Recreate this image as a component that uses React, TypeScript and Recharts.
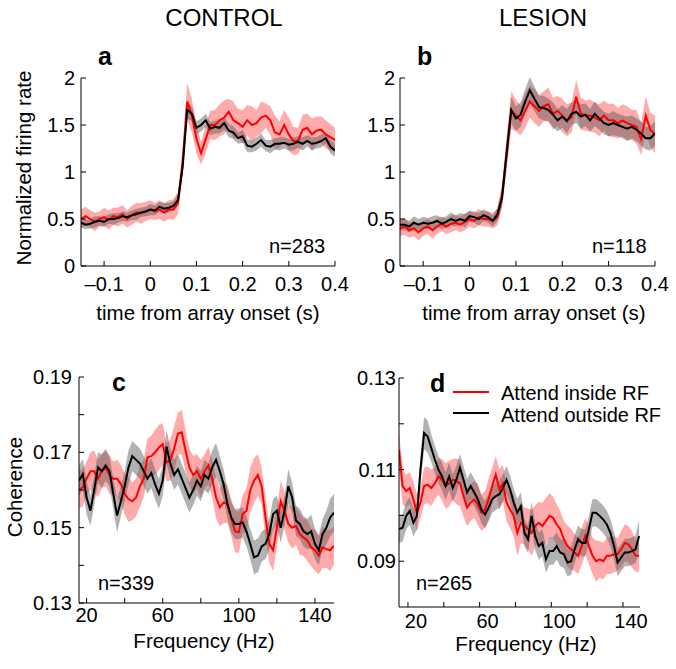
import React from 'react';
import { ComposedChart, Area, Line, XAxis, YAxis } from 'recharts';

// time axis (s) for the firing-rate panels
const times = [
  -0.15, -0.14, -0.13, -0.12, -0.11, -0.1, -0.09, -0.08, -0.07, -0.06,
  -0.05, -0.04, -0.03, -0.02, -0.01, 0, 0.01, 0.02, 0.03, 0.04,
  0.05, 0.06, 0.07, 0.08, 0.09, 0.1, 0.11, 0.12, 0.13, 0.14,
  0.15, 0.16, 0.17, 0.18, 0.19, 0.2, 0.21, 0.22, 0.23, 0.24,
  0.25, 0.26, 0.27, 0.28, 0.29, 0.3, 0.31, 0.32, 0.33, 0.34,
  0.35, 0.36, 0.37, 0.38, 0.39, 0.4,
];

// panel a — control
const redA = [
  0.5, 0.53, 0.5, 0.47, 0.5, 0.52, 0.49, 0.53, 0.52, 0.55,
  0.5, 0.54, 0.57, 0.56, 0.58, 0.6, 0.58, 0.6, 0.57, 0.6,
  0.6, 0.67, 1.1, 1.75, 1.6, 1.35, 1.2, 1.35, 1.5, 1.5,
  1.55, 1.58, 1.64, 1.55, 1.52, 1.48, 1.55, 1.5, 1.52, 1.58,
  1.6, 1.55, 1.42, 1.4, 1.5, 1.4, 1.33, 1.33, 1.45, 1.47,
  1.4, 1.44, 1.45, 1.4, 1.37, 1.34,
];
const redErrA = [
  0.1, 0.1, 0.09, 0.1, 0.08, 0.1, 0.1, 0.09, 0.1, 0.1,
  0.09, 0.1, 0.1, 0.11, 0.1, 0.1, 0.09, 0.1, 0.1, 0.1,
  0.11, 0.12, 0.15, 0.2, 0.18, 0.15, 0.12, 0.15, 0.15, 0.16,
  0.17, 0.18, 0.14, 0.2, 0.15, 0.18, 0.16, 0.2, 0.14, 0.17,
  0.13, 0.15, 0.18, 0.14, 0.16, 0.18, 0.15, 0.14, 0.16, 0.15,
  0.17, 0.15, 0.14, 0.15, 0.14, 0.13,
];
const blackA = [
  0.46, 0.44, 0.45, 0.47, 0.48, 0.47, 0.5, 0.5, 0.51, 0.53,
  0.52, 0.54, 0.55, 0.57, 0.58, 0.6, 0.59, 0.63, 0.61, 0.62,
  0.64, 0.7, 1.05, 1.66, 1.62, 1.47, 1.5, 1.55, 1.46, 1.48,
  1.47, 1.52, 1.44, 1.42, 1.36, 1.38, 1.28, 1.27, 1.3, 1.34,
  1.28, 1.27, 1.3, 1.3, 1.31, 1.29, 1.3, 1.32, 1.3, 1.33,
  1.3, 1.31, 1.33, 1.36, 1.27, 1.23,
];
const blackErrA = [
  0.05, 0.05, 0.05, 0.06, 0.05, 0.05, 0.05, 0.06, 0.05, 0.05,
  0.05, 0.05, 0.06, 0.05, 0.05, 0.06, 0.05, 0.05, 0.06, 0.05,
  0.05, 0.06, 0.08, 0.09, 0.08, 0.07, 0.07, 0.07, 0.07, 0.07,
  0.06, 0.07, 0.07, 0.07, 0.06, 0.07, 0.07, 0.06, 0.07, 0.07,
  0.06, 0.07, 0.06, 0.07, 0.06, 0.06, 0.07, 0.06, 0.07, 0.06,
  0.07, 0.06, 0.07, 0.06, 0.07, 0.07,
];

// panel b — lesion
const redB = [
  0.4, 0.42, 0.38, 0.4, 0.36, 0.4, 0.42, 0.38, 0.42, 0.45,
  0.42, 0.45, 0.46, 0.44, 0.47, 0.5, 0.48, 0.52, 0.5, 0.5,
  0.48, 0.52, 0.75, 1.2, 1.66, 1.6, 1.55, 1.65, 1.75, 1.7,
  1.65, 1.7, 1.72, 1.62, 1.65, 1.6, 1.55, 1.58, 1.8, 1.62,
  1.6, 1.6, 1.58, 1.55, 1.6, 1.55, 1.55, 1.52, 1.55, 1.52,
  1.5, 1.48, 1.35, 1.6, 1.45, 1.4,
];
const redErrB = [
  0.08, 0.09, 0.08, 0.08, 0.09, 0.08, 0.08, 0.09, 0.08, 0.08,
  0.08, 0.09, 0.08, 0.08, 0.09, 0.08, 0.08, 0.09, 0.08, 0.08,
  0.08, 0.09, 0.12, 0.18, 0.2, 0.17, 0.16, 0.18, 0.17, 0.18,
  0.17, 0.16, 0.18, 0.17, 0.16, 0.18, 0.17, 0.16, 0.18, 0.17,
  0.16, 0.17, 0.16, 0.17, 0.16, 0.17, 0.18, 0.16, 0.17, 0.18,
  0.16, 0.18, 0.17, 0.2, 0.18, 0.2,
];
const blackB = [
  0.44, 0.44, 0.42, 0.46, 0.44, 0.46, 0.45, 0.46, 0.48, 0.45,
  0.47, 0.5, 0.48, 0.5, 0.48, 0.53, 0.52, 0.5, 0.54, 0.52,
  0.48, 0.55, 0.72, 1.2, 1.66, 1.57, 1.61, 1.75, 1.87, 1.78,
  1.69, 1.68, 1.66, 1.61, 1.55, 1.59, 1.54, 1.62, 1.64, 1.59,
  1.61, 1.55, 1.62, 1.57, 1.52, 1.5, 1.52, 1.5, 1.48, 1.46,
  1.48, 1.45, 1.41, 1.36, 1.36, 1.41,
];
const blackErrB = [
  0.06, 0.06, 0.06, 0.07, 0.06, 0.06, 0.06, 0.07, 0.06, 0.06,
  0.06, 0.07, 0.06, 0.06, 0.07, 0.06, 0.06, 0.07, 0.06, 0.06,
  0.06, 0.07, 0.1, 0.14, 0.14, 0.13, 0.13, 0.13, 0.14, 0.13,
  0.12, 0.13, 0.12, 0.13, 0.12, 0.12, 0.13, 0.12, 0.12, 0.13,
  0.12, 0.12, 0.13, 0.12, 0.12, 0.12, 0.13, 0.12, 0.12, 0.13,
  0.12, 0.12, 0.13, 0.12, 0.13, 0.13,
];

// panel c — control coherence
const freqC = [
  16, 18, 20, 22, 24, 26, 28, 30, 32, 34, 36, 38, 40, 42, 44, 46, 48, 50, 52, 54,
  56, 58, 60, 62, 64, 66, 68, 70, 72, 74, 76, 78, 80, 82, 84, 86, 88, 90, 92, 94,
  96, 98, 100, 102, 104, 106, 108, 110, 112, 114, 116, 118, 120, 122, 124, 126, 128, 130, 132, 134,
  136, 138, 140, 142, 144, 146, 148, 150,
];
const redC = [
  0.16, 0.1607, 0.163, 0.165, 0.165, 0.163, 0.165, 0.166, 0.164, 0.163,
  0.163, 0.1616, 0.159, 0.1576, 0.157, 0.158, 0.161, 0.163, 0.1687, 0.169,
  0.17, 0.1713, 0.1722, 0.1673, 0.168, 0.171, 0.175, 0.1753, 0.1704, 0.166,
  0.164, 0.165, 0.163, 0.165, 0.1665, 0.163, 0.158, 0.1554, 0.1567, 0.1563,
  0.1527, 0.149, 0.1488, 0.1536, 0.1545, 0.16, 0.1625, 0.164, 0.161, 0.1527,
  0.1457, 0.144, 0.15, 0.157, 0.1545, 0.151, 0.15, 0.1505, 0.1483, 0.1474,
  0.1466, 0.1448, 0.144, 0.1426, 0.1448, 0.1443, 0.144, 0.1452,
];
const redErrC = [
  0.005, 0.005, 0.0045, 0.005, 0.0055, 0.005, 0.0045, 0.005, 0.005, 0.0045,
  0.005, 0.005, 0.0055, 0.006, 0.005, 0.005, 0.0055, 0.005, 0.005, 0.0055,
  0.006, 0.006, 0.0055, 0.005, 0.0055, 0.006, 0.0055, 0.006, 0.0055, 0.005,
  0.005, 0.0045, 0.005, 0.0045, 0.005, 0.005, 0.0055, 0.005, 0.0055, 0.005,
  0.005, 0.0055, 0.0055, 0.005, 0.006, 0.006, 0.006, 0.0055, 0.005, 0.0055,
  0.005, 0.0055, 0.005, 0.0055, 0.005, 0.005, 0.0055, 0.005, 0.0055, 0.005,
  0.0055, 0.005, 0.0055, 0.005, 0.0055, 0.005, 0.0055, 0.005,
];
const blackC = [
  0.1625, 0.1642, 0.158, 0.1545, 0.16, 0.166, 0.165, 0.1665, 0.165, 0.159,
  0.1532, 0.157, 0.161, 0.166, 0.169, 0.168, 0.167, 0.165, 0.163, 0.1645,
  0.1615, 0.159, 0.1625, 0.1715, 0.167, 0.164, 0.1655, 0.163, 0.1605, 0.158,
  0.16, 0.1625, 0.161, 0.164, 0.163, 0.166, 0.168, 0.165, 0.1615, 0.1563,
  0.1527, 0.151, 0.151, 0.1514, 0.149, 0.1457, 0.1421, 0.1426, 0.145, 0.1457,
  0.1483, 0.1536, 0.1545, 0.15, 0.1545, 0.161, 0.158, 0.1519, 0.151, 0.149,
  0.1483, 0.149, 0.1457, 0.144, 0.1483, 0.15, 0.1527, 0.154,
];
const blackErrC = [
  0.004, 0.004, 0.0045, 0.004, 0.004, 0.004, 0.0045, 0.004, 0.004, 0.004,
  0.0045, 0.004, 0.004, 0.0045, 0.004, 0.004, 0.004, 0.004, 0.004, 0.004,
  0.004, 0.004, 0.004, 0.0045, 0.004, 0.004, 0.004, 0.004, 0.004, 0.004,
  0.004, 0.004, 0.004, 0.004, 0.004, 0.0045, 0.0045, 0.004, 0.004, 0.004,
  0.004, 0.004, 0.004, 0.004, 0.004, 0.004, 0.0045, 0.0045, 0.004, 0.004,
  0.004, 0.004, 0.004, 0.004, 0.004, 0.0045, 0.004, 0.004, 0.004, 0.004,
  0.004, 0.0045, 0.004, 0.004, 0.004, 0.0045, 0.005, 0.005,
];

// panel d — lesion coherence
const freqD = [
  15, 17, 19, 21, 23, 25, 27, 29, 31, 33, 35, 37, 39, 41, 43, 45, 47, 49, 51, 53,
  55, 57, 59, 61, 63, 65, 67, 69, 71, 73, 75, 77, 79, 81, 83, 85, 87, 89, 91, 93,
  95, 97, 99, 101, 103, 105, 107, 109, 111, 113, 115, 117, 119, 121, 123, 125, 127, 129, 131, 133,
  135, 137, 139, 141, 143, 145, 147, 149,
];
const redD = [
  0.1143, 0.1064, 0.1053, 0.106, 0.1035, 0.1006, 0.1028, 0.1064, 0.1067, 0.106,
  0.107, 0.1085, 0.1078, 0.1064, 0.107, 0.1078, 0.1075, 0.107, 0.1042, 0.1017,
  0.1028, 0.1035, 0.1024, 0.1006, 0.1013, 0.1035, 0.1064, 0.1089, 0.1057, 0.107,
  0.1028, 0.1013, 0.0999, 0.0962, 0.0984, 0.0977, 0.097, 0.0962, 0.0977, 0.0984,
  0.0977, 0.0988, 0.0999, 0.0995, 0.098, 0.097, 0.0948, 0.0933, 0.0926, 0.0919,
  0.0912, 0.0933, 0.0955, 0.0933, 0.0912, 0.09, 0.0904, 0.09, 0.0912, 0.0912,
  0.0915, 0.0915, 0.0926, 0.094, 0.0937, 0.0926, 0.0912, 0.0912,
];
const redErrD = [
  0.004, 0.004, 0.0035, 0.0035, 0.004, 0.004, 0.0035, 0.004, 0.004, 0.004,
  0.0035, 0.004, 0.0045, 0.005, 0.005, 0.0045, 0.005, 0.005, 0.0045, 0.004,
  0.004, 0.004, 0.0045, 0.004, 0.004, 0.0045, 0.004, 0.004, 0.0045, 0.004,
  0.004, 0.004, 0.0045, 0.005, 0.0045, 0.004, 0.0045, 0.005, 0.0045, 0.0045,
  0.005, 0.005, 0.005, 0.0045, 0.0045, 0.004, 0.004, 0.0045, 0.0045, 0.004,
  0.004, 0.004, 0.004, 0.004, 0.004, 0.0045, 0.004, 0.004, 0.004, 0.004,
  0.004, 0.0035, 0.004, 0.004, 0.004, 0.004, 0.0035, 0.0035,
];
const blackD = [
  0.097, 0.0973, 0.0999, 0.101, 0.0984, 0.0999, 0.11, 0.118, 0.1172, 0.1147,
  0.1122, 0.11, 0.1085, 0.1064, 0.1085, 0.106, 0.1078, 0.1104, 0.1078, 0.105,
  0.1064, 0.105, 0.1035, 0.1013, 0.1002, 0.1017, 0.1035, 0.1042, 0.1046, 0.106,
  0.1078, 0.1057, 0.1028, 0.1006, 0.102, 0.0962, 0.0948, 0.0999, 0.0955, 0.0933,
  0.094, 0.0904, 0.0922, 0.0922, 0.0933, 0.0919, 0.0915, 0.0897, 0.09, 0.0926,
  0.0948, 0.094, 0.094, 0.097, 0.1006, 0.1006, 0.0999, 0.0991, 0.098, 0.0962,
  0.0933, 0.0897, 0.0908, 0.0919, 0.0919, 0.0922, 0.0926, 0.0955,
];
const blackErrD = [
  0.003, 0.003, 0.003, 0.003, 0.003, 0.003, 0.003, 0.0035, 0.0035, 0.003,
  0.003, 0.003, 0.003, 0.003, 0.003, 0.003, 0.003, 0.003, 0.003, 0.003,
  0.003, 0.003, 0.003, 0.003, 0.003, 0.003, 0.003, 0.003, 0.003, 0.003,
  0.003, 0.003, 0.003, 0.003, 0.003, 0.003, 0.003, 0.003, 0.003, 0.003,
  0.003, 0.003, 0.003, 0.003, 0.003, 0.003, 0.003, 0.003, 0.003, 0.003,
  0.003, 0.003, 0.003, 0.003, 0.003, 0.003, 0.003, 0.003, 0.003, 0.003,
  0.003, 0.003, 0.003, 0.003, 0.003, 0.003, 0.003, 0.0035,
];

// tick labels
const timeTicks = [-0.1, 0, 0.1, 0.2, 0.3, 0.4];
const rateTicks = [0, 0.5, 1, 1.5, 2];
const freqTicks = [20, 40, 60, 80, 100, 120, 140];
const freqLabels = [20, 60, 100, 140];
const cohTicksC = [0.13, 0.14, 0.15, 0.16, 0.17, 0.18, 0.19];
const cohLabelsC = ['0.13', '0.15', '0.17', '0.19'];
const cohTicksD = [0.09, 0.1, 0.11, 0.12, 0.13];
const cohLabelsD = ['0.09', '0.11', '0.13'];

const FONT = '"Liberation Sans", Arial, Helvetica, sans-serif';
const RED = '#ff0000';

function rows(x: number[], red: number[], redErr: number[], black: number[], blackErr: number[]) {
  return x.map((v, i) => ({
    x: v,
    red: red[i],
    redBand: [red[i] - redErr[i], red[i] + redErr[i]],
    black: black[i],
    blackBand: [black[i] - blackErr[i], black[i] + blackErr[i]],
  }));
}

type PanelProps = {
  data: any[];
  left: number;
  top: number;
  plotW: number;
  plotH: number;
  xDomain: [number, number];
  xTicks: number[];
  xFmt: (v: number) => string;
  xGap: number;
  xShift?: number;
  yDomain: [number, number];
  yTicks: number[];
  yFmt: (v: number) => string;
  yGap: number;
};

const tickStyle = { fontSize: 20, fill: '#000', fontFamily: FONT };

function Panel(p: PanelProps) {
  const yw = 60;
  const rightPad = 24; // room for the last tick label
  return (
    <div style={{ position: 'absolute', left: p.left - yw, top: p.top - 10 }}>
      <ComposedChart
        width={yw + p.plotW + rightPad}
        height={10 + p.plotH + 40}
        data={p.data}
        margin={{ top: 10, right: rightPad, bottom: 0, left: 0 }}
      >
        <XAxis
          dataKey="x"
          type="number"
          domain={p.xDomain}
          ticks={p.xTicks}
          tickFormatter={p.xFmt}
          allowDataOverflow
          height={40}
          tick={{ ...tickStyle, dx: p.xShift || 0 }}
          tickSize={-5}
          tickMargin={p.xGap}
          stroke="#000"
          interval={0}
        />
        <YAxis
          type="number"
          domain={p.yDomain}
          ticks={p.yTicks}
          tickFormatter={p.yFmt}
          allowDataOverflow
          width={yw}
          tick={tickStyle}
          tickSize={-5}
          tickMargin={p.yGap}
          stroke="#000"
          interval={0}
        />
        <Area dataKey="redBand" type="linear" stroke="none" fill={RED} fillOpacity={0.33} isAnimationActive={false} />
        <Area dataKey="blackBand" type="linear" stroke="none" fill="#555" fillOpacity={0.45} isAnimationActive={false} />
        <Line dataKey="red" type="linear" stroke={RED} strokeWidth={2} dot={false} isAnimationActive={false} />
        <Line dataKey="black" type="linear" stroke="#000" strokeWidth={2} dot={false} isAnimationActive={false} />
      </ComposedChart>
    </div>
  );
}

const timeFmt = (v: number) => (v < 0 ? '–' + String(Math.abs(v)) : String(v));
const rateFmt = (v: number) => String(v);
const freqFmt = (v: number) => (freqLabels.includes(v) ? String(v) : '');
const cohFmtC = (v: number) => (cohLabelsC.includes(v.toFixed(2)) ? v.toFixed(2) : '');
const cohFmtD = (v: number) => (cohLabelsD.includes(v.toFixed(2)) ? v.toFixed(2) : '');

export default function App() {
  const dataA = rows(times, redA, redErrA, blackA, blackErrA);
  const dataB = rows(times, redB, redErrB, blackB, blackErrB);
  const dataC = rows(freqC, redC, redErrC, blackC, blackErrC);
  const dataD = rows(freqD, redD, redErrD, blackD, blackErrD);

  return (
    <div style={{ position: 'absolute', left: 0, top: 0, width: 676, height: 669, background: '#fff', overflow: 'hidden' }}>
      <Panel data={dataA} left={81} top={78} plotW={254} plotH={188}
        xDomain={[-0.15, 0.4]} xTicks={timeTicks} xFmt={timeFmt} xGap={16}
        yDomain={[0, 2]} yTicks={rateTicks} yFmt={rateFmt} yGap={11} />
      <Panel data={dataB} left={400} top={78} plotW={255} plotH={188}
        xDomain={[-0.15, 0.4]} xTicks={timeTicks} xFmt={timeFmt} xGap={16}
        yDomain={[0, 2]} yTicks={rateTicks} yFmt={rateFmt} yGap={10} />
      <Panel data={dataC} left={79} top={377} plotW={255} plotH={226}
        xDomain={[16, 150]} xTicks={freqTicks} xFmt={freqFmt} xGap={10}
        yDomain={[0.13, 0.19]} yTicks={cohTicksC} yFmt={cohFmtC} yGap={12} />
      <Panel data={dataD} left={399} top={378} plotW={241} plotH={229}
        xDomain={[15, 149.5]} xTicks={freqTicks} xFmt={freqFmt} xGap={12} xShift={8}
        yDomain={[0.08, 0.13]} yTicks={cohTicksD} yFmt={cohFmtD} yGap={8} />

      <svg width={676} height={669} style={{ position: 'absolute', left: 0, top: 0, pointerEvents: 'none' }}
        fontFamily={FONT} fill="#000">
        <text x={224} y={26} fontSize={24} textAnchor="middle">CONTROL</text>
        <text x={543} y={26} fontSize={24} textAnchor="middle">LESION</text>

        <text x={98} y={65} fontSize={25} fontWeight="bold">a</text>
        <text x={417} y={65} fontSize={25} fontWeight="bold">b</text>
        <text x={112} y={391} fontSize={25} fontWeight="bold">c</text>
        <text x={430} y={392} fontSize={25} fontWeight="bold">d</text>

        <text transform="translate(31,168) rotate(-90)" fontSize={20.5} textAnchor="middle">Normalized firing rate</text>
        <text transform="translate(22,487) rotate(-90)" fontSize={20.5} textAnchor="middle">Coherence</text>

        <text x={208} y={320} fontSize={20.5} textAnchor="middle">time from array onset (s)</text>
        <text x={534} y={320} fontSize={20.5} textAnchor="middle">time from array onset (s)</text>
        <text x={204} y={648} fontSize={20.5} textAnchor="middle">Frequency (Hz)</text>
        <text x={526} y={651} fontSize={20.5} textAnchor="middle">Frequency (Hz)</text>

        <text x={269} y={253} fontSize={20}>n=283</text>
        <text x={592} y={253} fontSize={20}>n=118</text>
        <text x={98} y={590} fontSize={20}>n=339</text>
        <text x={416} y={590} fontSize={20}>n=265</text>

        <line x1={453} y1={392} x2={489} y2={392} stroke={RED} strokeWidth={2} />
        <line x1={453} y1={413} x2={489} y2={413} stroke="#000" strokeWidth={2} />
        <text x={501} y={400} fontSize={20}>Attend inside RF</text>
        <text x={501} y={422} fontSize={20}>Attend outside RF</text>
      </svg>
    </div>
  );
}
